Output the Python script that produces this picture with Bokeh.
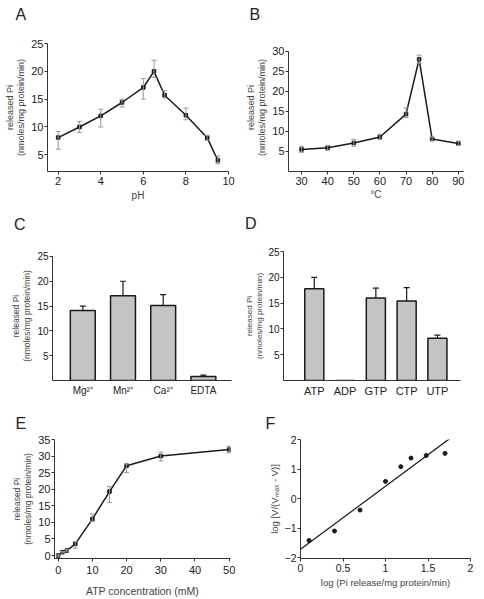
import math
from bokeh.plotting import figure
from bokeh.models import ColumnDataSource, Whisker, TeeHead, FixedTicker, Range1d, Div
from bokeh.layouts import column, row
from bokeh.embed import file_html
from bokeh.resources import INLINE

# ---------------- data ----------------
ph = [2, 3, 4, 5, 6, 6.5, 7, 8, 9, 9.5]
ph_pi = [8.1, 10.0, 12.0, 14.4, 17.1, 20.0, 15.7, 12.1, 8.05, 4.0]
ph_lo = [6.0, 9.0, 10.0, 13.6, 15.0, 18.9, 15.2, 11.3, 7.6, 3.4]
ph_hi = [9.2, 11.0, 13.2, 15.0, 18.7, 22.0, 16.5, 13.4, 8.5, 4.8]

temp = [30, 40, 50, 60, 70, 75, 80, 90]
temp_pi = [5.5, 5.9, 7.1, 8.6, 14.3, 28.0, 8.1, 7.0]
temp_lo = [4.8, 5.3, 6.3, 8.0, 13.5, 27.0, 7.6, 6.5]
temp_hi = [6.3, 6.5, 8.0, 9.3, 15.9, 29.0, 8.6, 7.6]

ions = ["Mg²⁺", "Mn²⁺", "Ca²⁺", "EDTA"]
ion_pi = [14.1, 17.1, 15.1, 0.8]
ion_err = [0.9, 2.9, 2.2, 0.3]

nucs = ["ATP", "ADP", "GTP", "CTP", "UTP"]
nuc_pi = [17.8, 0.0, 16.0, 15.4, 8.2]
nuc_err = [2.2, float("nan"), 1.9, 2.6, 0.6]

atp = [0, 1.25, 2.5, 5, 10, 15, 20, 30, 50]
atp_pi = [0.0, 1.0, 1.5, 3.5, 11.0, 19.3, 27.1, 30.0, 32.0]
atp_lo = [-0.2, 0.8, 1.3, 2.2, 10.3, 16.0, 25.0, 28.5, 31.0]
atp_hi = [0.2, 1.2, 1.8, 4.2, 12.5, 20.8, 27.6, 31.2, 33.0]

hill_x = [0.1, 0.4, 0.7, 1.0, 1.18, 1.3, 1.48, 1.7]
hill_y = [-1.42, -1.1, -0.39, 0.58, 1.08, 1.37, 1.46, 1.53]
fit_x = [0.0, 1.75]
fit_y = [-1.72, 2.02]

YLABEL = "released Pi\n(nmoles/mg protein/min)"
FONT = "Liberation Sans"
DARK = "#1a1a1a"
GREY_ERR = "#9a9a9a"
BAR_FILL = "#c4c4c4"


def make_fig(letter, w, h, L, R, T, B, xr, yr, tick_size="11px", offset=-30, standoff=0):
    p = figure(width=w, height=h, output_backend="svg", toolbar_location=None,
               x_range=Range1d(*xr), y_range=Range1d(*yr),
               min_border_left=L, min_border_right=R, min_border_top=T, min_border_bottom=B)
    p.outline_line_color = None
    p.xgrid.visible = False
    p.ygrid.visible = False
    p.background_fill_color = "white"
    p.border_fill_color = "white"
    if letter is None:
        p.title = None
    else:
        p.title.text = letter
        p.title.text_font = FONT
        p.title.text_font_size = "16px"
        p.title.text_font_style = "normal"
        p.title.text_color = "#222222"
        p.title.text_line_height = 1.2
        p.title.align = "left"
        p.title.offset = offset
        p.title.standoff = standoff
    for ax in (p.xaxis[0], p.yaxis[0]):
        ax.axis_line_color = "#333333"
        ax.axis_line_width = 1
        ax.major_tick_line_color = "#333333"
        ax.major_tick_in = 0
        ax.major_tick_out = 3
        ax.minor_tick_line_color = None
        ax.major_label_text_font = FONT
        ax.major_label_text_font_size = tick_size
        ax.major_label_text_color = "#222222"
        ax.major_label_standoff = 2
        ax.axis_label_text_font = FONT
        ax.axis_label_text_font_style = "normal"
        ax.axis_label_text_color = "#444444"
        ax.axis_label_standoff = 2
        ax.axis_label_text_line_height = 1.15
    p.yaxis.major_label_standoff = 1
    return p


def letter_div(letter, left, top):
    html = ('<span style="position:relative; display:inline-block; left:%dpx; top:%dpx; '
            'font-family:\'Liberation Sans\'; font-size:16px; line-height:16px; '
            'color:#222222;">%s</span>' % (left, top, letter))
    return Div(text=html, width=242, height=32, margin=0)


def add_errs(p, src, color):
    p.add_layout(Whisker(base="x", lower="lo", upper="hi", source=src, line_color=color,
                         upper_head=TeeHead(size=5, line_color=color),
                         lower_head=TeeHead(size=5, line_color=color), level="glyph"))


# ---------------- A ----------------
pa = make_fig("A\n", 242, 204, 47, 14, 43, 33, (1.5, 10), (2.0, 25), offset=-32, standoff=0)
pa.xaxis.ticker = FixedTicker(ticks=[2, 4, 6, 8, 10])
pa.yaxis.ticker = FixedTicker(ticks=[5, 10, 15, 20, 25])
pa.xaxis.axis_label = "pH"
pa.xaxis.axis_label_text_font_size = "10px"
pa.xaxis.axis_label_standoff = 2
pa.yaxis.axis_label = YLABEL
pa.yaxis.axis_label_text_font_size = "9px"
srcA = ColumnDataSource(dict(x=ph, y=ph_pi, lo=ph_lo, hi=ph_hi))
add_errs(pa, srcA, GREY_ERR)
pa.line("x", "y", source=srcA, line_color=DARK, line_width=1.5)
pa.scatter("x", "y", source=srcA, marker="square", size=3.5, color=DARK)

# ---------------- B ----------------
pb = make_fig("B\n", 242, 204, 43, 21, 43, 33, (25, 92), (0, 31.92), offset=-39, standoff=0)
pb.xaxis.ticker = FixedTicker(ticks=[30, 40, 50, 60, 70, 80, 90])
pb.yaxis.ticker = FixedTicker(ticks=[5, 10, 15, 20, 25, 30])
pb.yaxis.bounds = (0, 30)
pb.xaxis.axis_label = "°C"
pb.xaxis.axis_label_text_font_size = "10px"
pb.xaxis.axis_label_standoff = 1
pb.yaxis.axis_label = YLABEL
pb.yaxis.axis_label_text_font_size = "9px"
srcB = ColumnDataSource(dict(x=temp, y=temp_pi, lo=temp_lo, hi=temp_hi))
add_errs(pb, srcB, GREY_ERR)
pb.line("x", "y", source=srcB, line_color=DARK, line_width=1.5)
pb.scatter("x", "y", source=srcB, marker="square", size=3.5, color=DARK)

# ---------------- C ----------------
ion_x = list(range(1, len(ions) + 1))
pc = make_fig(None, 242, 164, 52, 11, 15, 20, (0.246, 4.70), (0, 26.0), tick_size="10px")
pc.xaxis.ticker = FixedTicker(ticks=ion_x)
pc.xaxis.major_label_overrides = {i: n for i, n in zip(ion_x, ions)}
pc.xaxis.major_tick_out = 0
pc.xaxis.major_label_standoff = 4
pc.yaxis.ticker = FixedTicker(ticks=[5, 10, 15, 20, 25])
pc.yaxis.bounds = (0, 25)
pc.yaxis.axis_label = YLABEL
pc.yaxis.axis_label_text_font_size = "8.5px"
srcC = ColumnDataSource(dict(x=ion_x, y=ion_pi,
                             hi=[v + e for v, e in zip(ion_pi, ion_err)]))
pc.vbar(x="x", top="y", bottom=0, width=0.62, source=srcC, fill_color=BAR_FILL,
        line_color=DARK, line_width=1.5)
pc.add_layout(Whisker(base="x", lower="y", upper="hi", source=srcC, line_color=DARK,
                      line_width=1.2, upper_head=TeeHead(size=6, line_color=DARK, line_width=1.2),
                      lower_head=None))

# ---------------- D ----------------
nuc_x = list(range(1, len(nucs) + 1))
pd_ = make_fig(None, 242, 164, 39, 24, 15, 20, (0.0, 5.75), (0, 25), tick_size="10px")
pd_.xaxis.ticker = FixedTicker(ticks=nuc_x)
pd_.xaxis.major_label_overrides = {i: n for i, n in zip(nuc_x, nucs)}
pd_.xaxis.major_tick_out = 0
pd_.xaxis.major_label_standoff = 4
pd_.xaxis.major_label_text_font_size = "11px"
pd_.yaxis.ticker = FixedTicker(ticks=[5, 10, 15, 20, 25])
pd_.yaxis.axis_label = YLABEL
pd_.yaxis.axis_label_text_font_size = "8px"
pd_.yaxis.axis_label_standoff = 1
srcD = ColumnDataSource(dict(x=nuc_x, y=nuc_pi,
                             hi=[v + e for v, e in zip(nuc_pi, nuc_err)]))
pd_.vbar(x="x", top="y", bottom=0, width=0.62, source=srcD, fill_color=BAR_FILL,
         line_color=DARK, line_width=1.5)
pd_.add_layout(Whisker(base="x", lower="y", upper="hi", source=srcD, line_color=DARK,
                       line_width=1.2, upper_head=TeeHead(size=6, line_color=DARK, line_width=1.2),
                       lower_head=None))

# ---------------- E ----------------
pe = make_fig("E", 242, 199, 54, 12, 39, 40, (-1.08, 50.38), (-0.9, 35), offset=-39,
              standoff=16)
pe.xaxis.ticker = FixedTicker(ticks=[0, 10, 20, 30, 40, 50])
pe.yaxis.ticker = FixedTicker(ticks=[0, 5, 10, 15, 20, 25, 30, 35])
pe.xaxis.major_label_standoff = 4
pe.xaxis.axis_label = "ATP concentration (mM)"
pe.xaxis.axis_label_text_font_size = "10.5px"
pe.xaxis.axis_label_standoff = 8
pe.yaxis.axis_label = YLABEL
pe.yaxis.axis_label_text_font_size = "8.5px"
srcE = ColumnDataSource(dict(x=atp, y=atp_pi, lo=atp_lo, hi=atp_hi))
add_errs(pe, srcE, GREY_ERR)
pe.line("x", "y", source=srcE, line_color=DARK, line_width=1.5)
pe.scatter("x", "y", source=srcE, marker="square", size=3.5, color=DARK)

# ---------------- F ----------------
pf = make_fig("F", 242, 199, 58, 14, 39, 40, (0, 2), (-2.03, 2), tick_size="10.5px",
              offset=-35, standoff=16)
pf.xaxis.ticker = FixedTicker(ticks=[0, 0.5, 1, 1.5, 2])
pf.yaxis.ticker = FixedTicker(ticks=[-2, -1, 0, 1, 2])
pf.xaxis.axis_label = "log (Pi release/mg protein/min)"
pf.xaxis.axis_label_text_font_size = "9.5px"
pf.yaxis.axis_label = "log [V/(Vₘₐₓ - V)]"
pf.yaxis.axis_label_text_font_size = "9.5px"
pf.line(fit_x, fit_y, line_color=DARK, line_width=1.2)
pf.scatter(hill_x, hill_y, marker="circle", size=4, color=DARK)

layout = column(row(pa, pb),
                row(letter_div("C", 14, 13), letter_div("D", 3, 12)),
                row(pc, pd_),
                row(pe, pf))
open("out.html", "w").write(file_html(layout, INLINE))
